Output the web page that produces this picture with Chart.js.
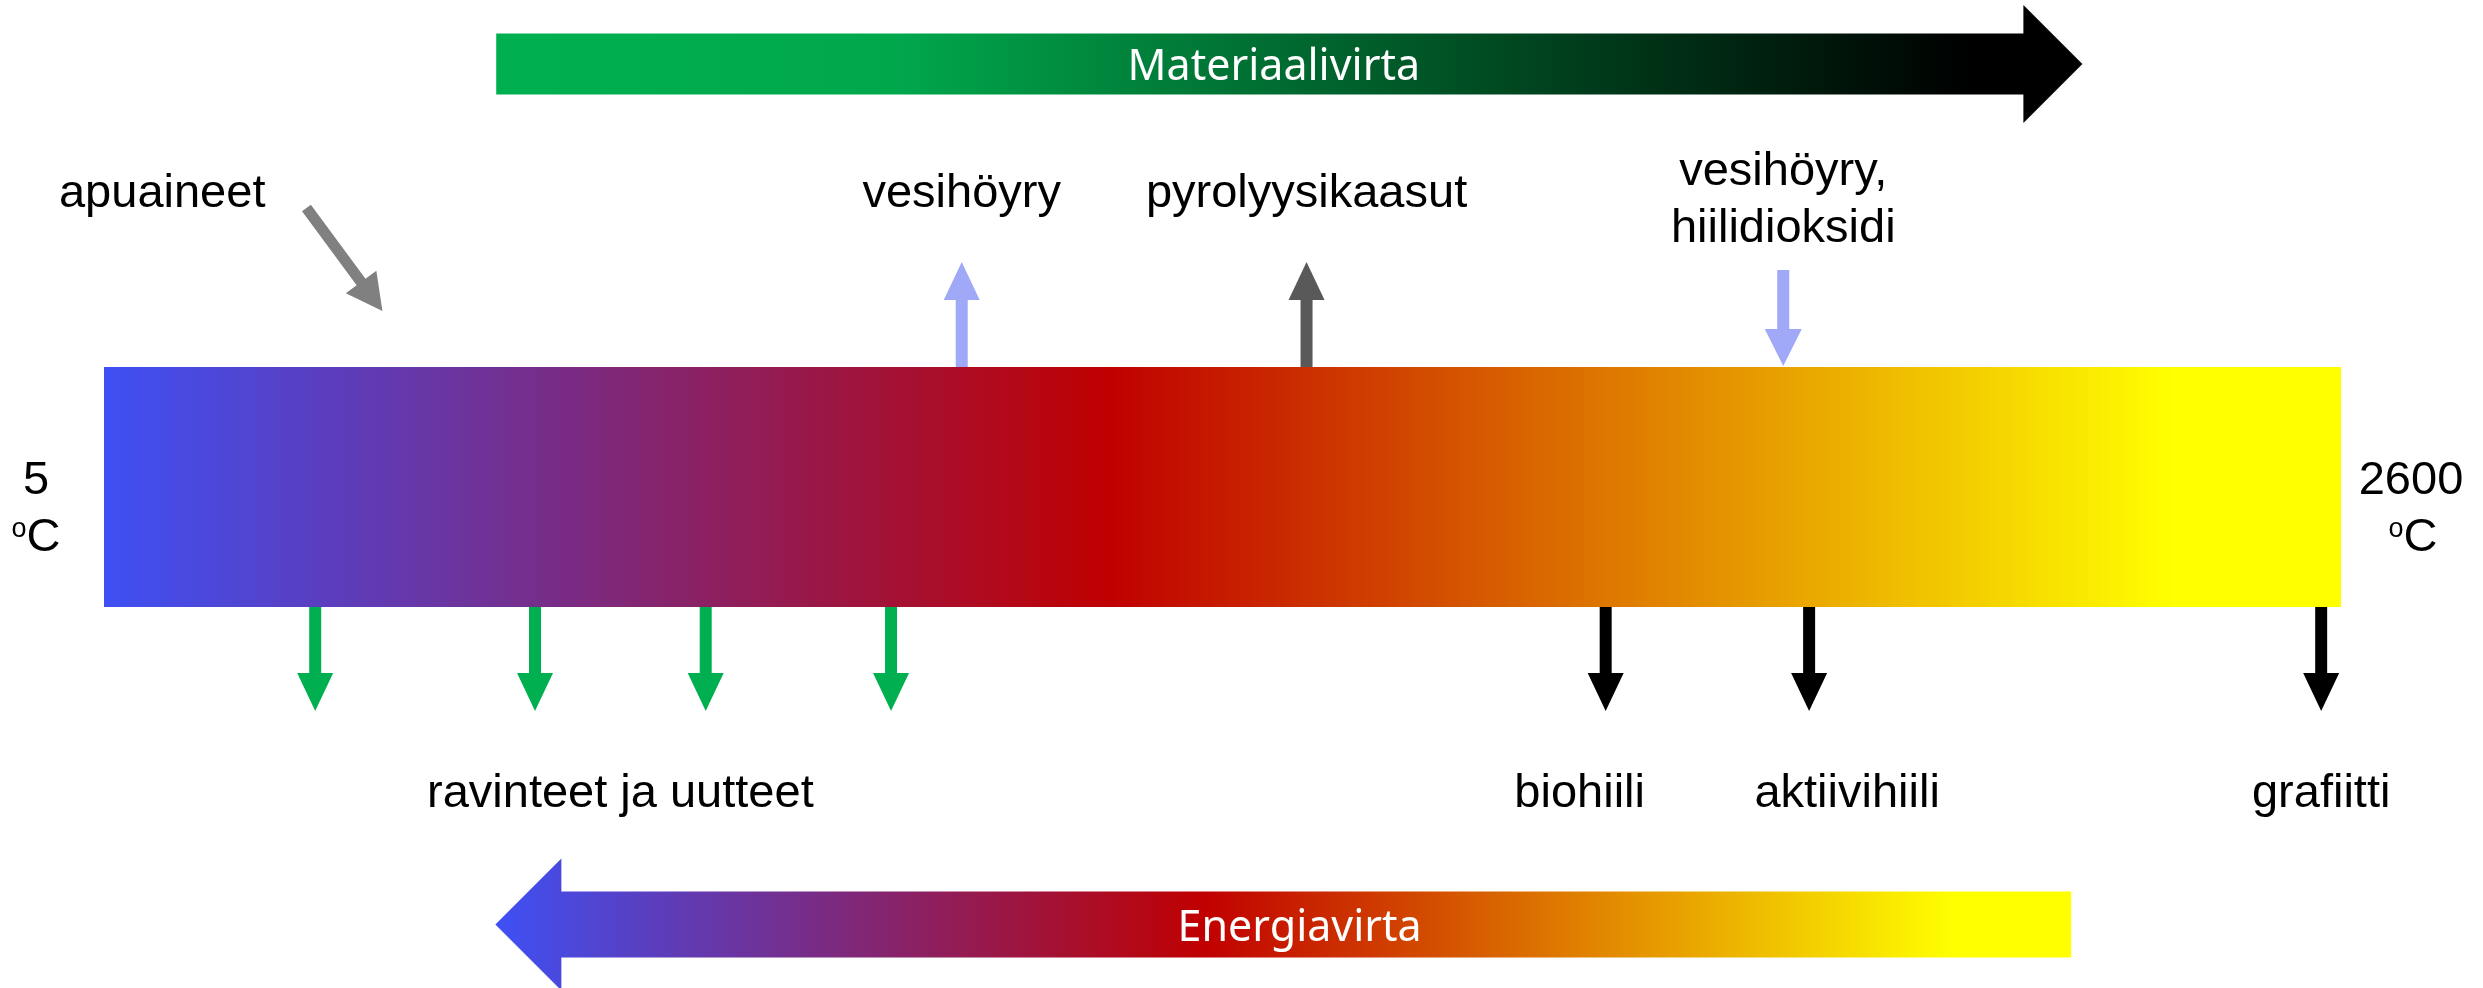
<!DOCTYPE html>
<html lang="fi">
<head>
<meta charset="utf-8">
<title>Materiaali- ja energiavirta</title>
<script src="https://cdn.jsdelivr.net/npm/chart.js@4.4.1/dist/chart.umd.min.js"></script>
<style>
    html, body { margin: 0; padding: 0; background: #ffffff; }
    canvas { display: block; }
</style>
</head>
<body>
<canvas id="processChart" width="2483" height="988"></canvas>
<script>
// Temperature span of the process bar (°C)
const tempRange = [5, 2600];
const tempEndLabels = ['5', '2600'];

// Inputs and outputs along the bar, positions read as temperatures (°C)
const additiveLabel = 'apuaineet';
const additiveTemp = 328;

const gasOutLabels = ['vesihöyry', 'pyrolyysikaasut'];
const gasOutTemps = [1000, 1400];

const gasInLabels = [['vesihöyry,', 'hiilidioksidi']];
const gasInTemps = [1953];

const extractLabel = 'ravinteet ja uutteet';
const extractTemps = [250, 505, 703, 918];

const carbonLabels = ['biohiili', 'aktiivihiili', 'grafiitti'];
const carbonTemps = [1747, 1983, 2577];

// Flow arrows
const materialFlowLabel = 'Materiaalivirta';
const energyFlowLabel = 'Energiavirta';

const FONT = "'Liberation Sans', Arial, sans-serif";
const FLOW_FONT = "'Noto Sans', sans-serif";

// same colour ramp for the bar and the energy arrow
const heatStops = [
    [0, '#3e50f4'],
    [0.45, '#c00000'],
    [0.925, '#ffff00'],
    [1, '#ffff00']
];

function heatGradient(ctx, x0, x1) {
    const g = ctx.createLinearGradient(x0, 0, x1, 0);
    heatStops.forEach(s => g.addColorStop(s[0], s[1]));
    return g;
}

// polygon arrow from tail to tip
function drawArrow(ctx, x1, y1, x2, y2, shaft, head, headLen, color) {
    const dx = x2 - x1, dy = y2 - y1;
    const len = Math.hypot(dx, dy);
    const ux = dx / len, uy = dy / len;
    const px = -uy, py = ux;
    const bx = x2 - ux * headLen, by = y2 - uy * headLen;
    ctx.beginPath();
    ctx.moveTo(x1 + px * shaft / 2, y1 + py * shaft / 2);
    ctx.lineTo(bx + px * shaft / 2, by + py * shaft / 2);
    ctx.lineTo(bx + px * head / 2, by + py * head / 2);
    ctx.lineTo(x2, y2);
    ctx.lineTo(bx - px * head / 2, by - py * head / 2);
    ctx.lineTo(bx - px * shaft / 2, by - py * shaft / 2);
    ctx.lineTo(x1 - px * shaft / 2, y1 - py * shaft / 2);
    ctx.closePath();
    ctx.fillStyle = color;
    ctx.fill();
}

// big horizontal block arrow; dir 1 = right, -1 = left
function drawFlowArrow(ctx, tail, tip, cy, bodyH, headH, headLen, fill) {
    const dir = tip > tail ? 1 : -1;
    const base = tip - dir * headLen;
    ctx.beginPath();
    ctx.moveTo(tail, cy - bodyH / 2);
    ctx.lineTo(base, cy - bodyH / 2);
    ctx.lineTo(base, cy - headH / 2);
    ctx.lineTo(tip, cy);
    ctx.lineTo(base, cy + headH / 2);
    ctx.lineTo(base, cy + bodyH / 2);
    ctx.lineTo(tail, cy + bodyH / 2);
    ctx.closePath();
    ctx.fillStyle = fill;
    ctx.fill();
}

function drawDegC(ctx, cx, baseline) {
    ctx.save();
    ctx.textAlign = 'left';
    ctx.font = '27px ' + FONT;
    const wo = ctx.measureText('o').width;
    ctx.font = '47px ' + FONT;
    const wc = ctx.measureText('C').width;
    const x0 = cx - (wo + wc) / 2;
    ctx.font = '27px ' + FONT;
    ctx.fillText('o', x0, baseline - 14);
    ctx.font = '47px ' + FONT;
    ctx.fillText('C', x0 + wo, baseline);
    ctx.restore();
}

const diagramPlugin = {
    id: 'diagram',
    afterDatasetsDraw(chart) {
        const ctx = chart.ctx;
        const xs = chart.scales.x;
        const area = chart.chartArea;
        const X = v => xs.getPixelForValue(v);
        const top = area.top, bottom = area.bottom;

        ctx.save();
        ctx.textBaseline = 'alphabetic';

        // Materiaalivirta arrow (top)
        const mTail = X(460), mTip = X(2300);
        const green = ctx.createLinearGradient(mTail, 0, mTip, 0);
        green.addColorStop(0, '#00b050');
        green.addColorStop(0.25, '#00a84c');
        green.addColorStop(0.93, '#000000');
        green.addColorStop(1, '#000000');
        drawFlowArrow(ctx, mTail, mTip, 64, 61, 118, 59, green);
        ctx.fillStyle = '#ffffff';
        ctx.font = '43px ' + FLOW_FONT;
        ctx.textAlign = 'center';
        ctx.fillText(materialFlowLabel, X(1362), 80);

        // Energiavirta arrow (bottom)
        const eTail = X(2287), eTip = X(459);
        drawFlowArrow(ctx, eTail, eTip, 924.5, 66, 132, 66, heatGradient(ctx, eTip, eTail));
        ctx.fillStyle = '#ffffff';
        ctx.font = '43px ' + FLOW_FONT;
        ctx.fillText(energyFlowLabel, X(1392), 941);

        // additive input arrow (diagonal)
        const aTipX = X(additiveTemp), aTipY = top - 56;
        const aTailX = aTipX - 76, aTailY = aTipY - 103;
        drawArrow(ctx, aTailX, aTailY, aTipX, aTipY, 11, 38, 36, '#808080');
        ctx.fillStyle = '#000000';
        ctx.font = '47px ' + FONT;
        ctx.textAlign = 'right';
        ctx.fillText(additiveLabel, aTailX - 41, 207);

        // gas outputs (up arrows)
        const gasColors = ['#a0a8f8', '#595959'];
        ctx.textAlign = 'center';
        gasOutTemps.forEach((t, i) => {
            drawArrow(ctx, X(t), top, X(t), top - 105, 12, 36, 38, gasColors[i]);
            ctx.fillStyle = '#000000';
            ctx.fillText(gasOutLabels[i], X(t), 207);
        });

        // gas inputs (down arrows onto the bar)
        gasInTemps.forEach((t, i) => {
            drawArrow(ctx, X(t), top - 97, X(t), top - 1, 12, 37, 37, '#a0a8f8');
            ctx.fillStyle = '#000000';
            gasInLabels[i].forEach((line, j) => ctx.fillText(line, X(t), 185 + j * 57));
        });

        // nutrients and extracts
        extractTemps.forEach(t => {
            drawArrow(ctx, X(t), bottom, X(t), bottom + 104, 12, 36, 38, '#00b050');
        });
        ctx.fillStyle = '#000000';
        ctx.fillText(extractLabel, (X(extractTemps[1]) + X(extractTemps[2])) / 2, 807);

        // carbon products
        const carbonLabelShift = [-26, 38, 0];
        carbonTemps.forEach((t, i) => {
            drawArrow(ctx, X(t), bottom, X(t), bottom + 104, 12, 36, 38, '#000000');
            ctx.fillStyle = '#000000';
            ctx.fillText(carbonLabels[i], X(t) + carbonLabelShift[i], 807);
        });

        // temperature end labels
        ctx.fillText(tempEndLabels[0], X(tempRange[0]) - 68, 494);
        drawDegC(ctx, X(tempRange[0]) - 68, 551);
        ctx.fillText(tempEndLabels[1], X(tempRange[1]) + 70, 494);
        drawDegC(ctx, X(tempRange[1]) + 72, 551);

        ctx.restore();
    }
};

new Chart(document.getElementById('processChart'), {
    type: 'bar',
    data: {
        labels: ['lämpötila'],
        datasets: [{
            data: [tempRange],
            backgroundColor: function(c) {
                const area = c.chart.chartArea;
                if (!area) return '#c00000';
                return heatGradient(c.chart.ctx, area.left, area.right);
            },
            borderWidth: 0,
            barPercentage: 1,
            categoryPercentage: 1
        }]
    },
    options: {
        indexAxis: 'y',
        responsive: false,
        animation: false,
        devicePixelRatio: 1,
        layout: { padding: { left: 104, right: 142, top: 367, bottom: 381 } },
        plugins: {
            legend: { display: false },
            tooltip: { enabled: false }
        },
        scales: {
            x: { type: 'linear', min: tempRange[0], max: tempRange[1], display: false },
            y: { display: false }
        }
    },
    plugins: [diagramPlugin]
});
</script>
</body>
</html>
